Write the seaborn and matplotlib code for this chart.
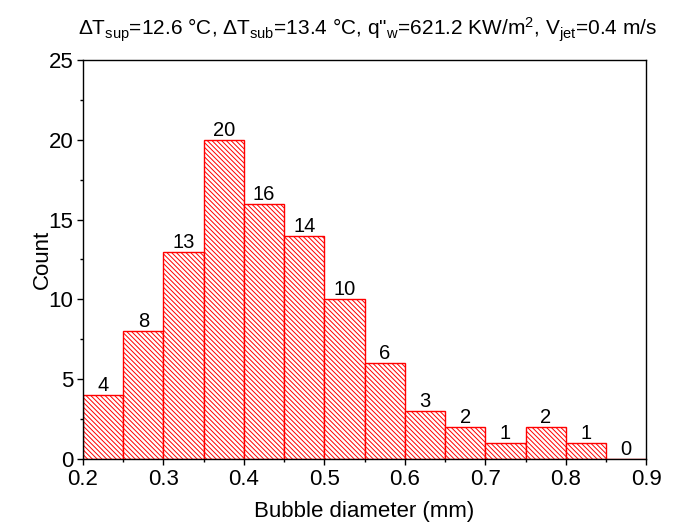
import matplotlib
matplotlib.use("Agg")
import matplotlib.pyplot as plt
import seaborn as sns
import numpy as np
from matplotlib.ticker import MultipleLocator

bin_edges = [0.2, 0.25, 0.3, 0.35, 0.4, 0.45, 0.5, 0.55, 0.6, 0.65, 0.7, 0.75, 0.8, 0.85, 0.9]
counts = [4, 8, 13, 20, 16, 14, 10, 6, 3, 2, 1, 2, 1, 0]
bin_centers = [(a + b) / 2 for a, b in zip(bin_edges[:-1], bin_edges[1:])]

sns.set_style("ticks")
plt.rcParams['font.family'] = ['Liberation Sans', 'DejaVu Sans']
plt.rcParams['mathtext.fontset'] = 'custom'
plt.rcParams['mathtext.rm'] = 'Liberation Sans'
plt.rcParams['mathtext.it'] = 'Liberation Sans:italic'
plt.rcParams['hatch.color'] = 'red'
plt.rcParams['hatch.linewidth'] = 0.7
plt.rcParams['text.color'] = 'black'
plt.rcParams['axes.labelcolor'] = 'black'

fig = plt.figure(figsize=(6.86, 5.31), dpi=100)
ax = fig.add_axes([0.121, 0.1356, 0.821, 0.7514])

sns.histplot(x=bin_centers, weights=counts, bins=bin_edges, ax=ax,
             color='white', edgecolor='red', linewidth=1.0, alpha=1.0)
for p in ax.patches:
    p.set_hatch('\\\\\\\\\\\\\\')
    p.set_facecolor('white')
    p.set_edgecolor('red')

ax.bar_label(ax.containers[0], labels=[str(c) for c in counts], fontsize=14.5, padding=0)

ax.set_xlim(0.2, 0.9)
ax.set_ylim(0, 25)
ax.xaxis.set_major_locator(MultipleLocator(0.1))
ax.xaxis.set_minor_locator(MultipleLocator(0.05))
ax.yaxis.set_major_locator(MultipleLocator(5))
ax.yaxis.set_minor_locator(MultipleLocator(2.5))
ax.tick_params(which='major', direction='out', length=4, width=1, labelsize=16, colors='black', pad=3)
ax.tick_params(which='minor', direction='out', length=2.5, width=1, colors='black')
for s in ax.spines.values():
    s.set_visible(True)
    s.set_color('black')
    s.set_linewidth(1.0)

ax.set_xlabel('Bubble diameter (mm)', fontsize=16, labelpad=8)
ax.set_ylabel('Count', fontsize=16, labelpad=-3)
fig.text(0.536, 0.943,
         r'$\Delta$T$_{\rm sup}$=12.6 °C, $\Delta$T$_{\rm sub}$=13.4 °C, q"$_{\rm w}$=621.2 KW/m$^{2}$, V$_{\rm jet}$=0.4 m/s',
         fontsize=15, ha='center', va='center')

fig.savefig('out.png', dpi=100)
